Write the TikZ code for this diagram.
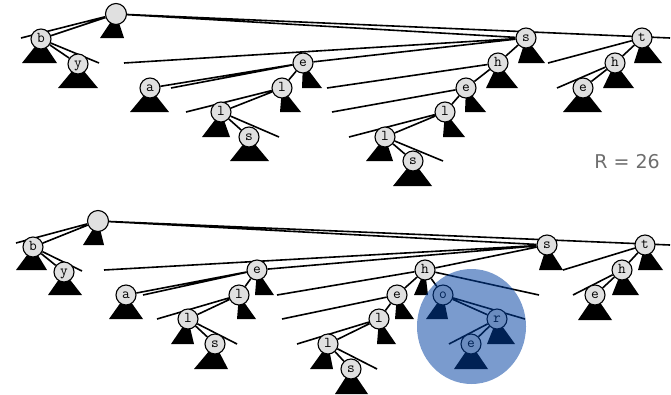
\documentclass[tikz,border=0pt]{standalone}
\usepackage{fontspec}
\setsansfont{DejaVu Sans}
\usetikzlibrary{backgrounds}
\definecolor{keygray}{RGB}{224,224,224}
\definecolor{hilite}{RGB}{0,64,162}
\definecolor{labelgray}{RGB}{110,110,110}
\tikzstyle{key} = [
    circle,
    minimum size=20pt,
    inner sep=0pt,
    text height=6pt,
    text depth=0pt,
    draw=black,
    line width=1.1pt,
    fill=keygray,
    font=\ttfamily\fontsize{15}{15}\selectfont
]
\tikzstyle{link} = [line width=1.6pt]
\tikzstyle{nulllink} = [fill=black]
\tikzstyle{newkeys} = [fill=hilite, fill opacity=0.52]
\tikzstyle{radix} = [
    font=\sffamily\fontsize{19}{19}\selectfont,
    text=labelgray
]

\begin{document}
\begin{tikzpicture}[x=1pt, y=-1pt]

\useasboundingbox (0,0) rectangle (671,394);

% before: by sea sells she shells the
\node (root1) [key, minimum size=21pt] at (116,14) {};
\node (b1) [key] at (41,39) {b};
\node (by1) [key] at (78,64) {y};
\node (s1) [key] at (526,38) {s};
\node (se1) [key] at (303,63) {e};
\node (sea1) [key] at (150,88) {a};
\node (sel1) [key] at (282,88) {l};
\node (sell1) [key] at (221,112) {l};
\node (sells1) [key] at (249,137) {s};
\node (sh1) [key] at (498,63) {h};
\node (she1) [key] at (466,88) {e};
\node (shel1) [key] at (445,112) {l};
\node (shell1) [key] at (385,137) {l};
\node (shells1) [key] at (413,161) {s};
\node (t1) [key] at (642,38) {t};
\node (th1) [key] at (615,63) {h};
\node (the1) [key] at (583,88) {e};

\coordinate (root1-left) at (21,38);
\coordinate (root1-right) at (670,38);
\coordinate (b1-right) at (99,63);
\coordinate (s1-left) at (124,63);
\coordinate (se1-left) at (171,88);
\coordinate (sel1-left) at (186,112);
\coordinate (sell1-right) at (279,137);
\coordinate (sh1-left) at (327,88);
\coordinate (she1-left) at (332,112);
\coordinate (shel1-left) at (349,137);
\coordinate (shell1-right) at (443,161);
\coordinate (t1-left) at (548,63);
\coordinate (th1-left) at (557,88);

\node (size) [radix] at (627,162) {R = 26};

% after: shore added
\node (root2) [key, minimum size=21pt] at (98,221) {};
\node (b2) [key] at (33,247) {b};
\node (by2) [key] at (64,272) {y};
\node (s2) [key] at (547,245) {s};
\node (se2) [key] at (257,270) {e};
\node (sea2) [key] at (126,295) {a};
\node (sel2) [key] at (239,295) {l};
\node (sell2) [key] at (188,319) {l};
\node (sells2) [key] at (215,344) {s};
\node (sh2) [key] at (425,270) {h};
\node (she2) [key] at (397,295) {e};
\node (shel2) [key] at (379,319) {l};
\node (shell2) [key] at (328,344) {l};
\node (shells2) [key] at (351,369) {s};
\node (sho2) [key] at (443,295) {o};
\node (shor2) [key] at (497,319) {r};
\node (shore2) [key] at (471,344) {e};
\node (t2) [key] at (645,245) {t};
\node (th2) [key] at (622,270) {h};
\node (the2) [key] at (595,295) {e};

\coordinate (root2-left) at (16,243);
\coordinate (root2-right) at (670,245);
\coordinate (b2-right) at (82,271);
\coordinate (s2-left) at (104,270);
\coordinate (se2-left) at (143,295);
\coordinate (sel2-left) at (157,319);
\coordinate (sell2-right) at (237,344);
\coordinate (sh2-left) at (277,295);
\coordinate (sh2-right) at (539,295);
\coordinate (she2-left) at (282,319);
\coordinate (shel2-left) at (297,344);
\coordinate (shell2-right) at (377,369);
\coordinate (sho2-right) at (525,319);
\coordinate (shor2-left) at (449,344);
\coordinate (t2-left) at (563,270);
\coordinate (th2-left) at (573,295);

\begin{pgfonlayer}{background}
\draw [link] (root1) -- (root1-left) (root1) -- (b1) (root1) -- (s1) (root1) -- (root1-right);
\draw [link] (b1) -- (by1) (b1) -- (b1-right);
\draw [link] (s1) -- (s1-left) (s1) -- (se1) (s1) -- (sh1);
\draw [link] (se1) -- (sea1) (se1) -- (se1-left) (se1) -- (sel1);
\draw [link] (sel1) -- (sell1) (sel1) -- (sel1-left);
\draw [link] (sell1) -- (sells1) (sell1) -- (sell1-right);
\draw [link] (sh1) -- (sh1-left) (sh1) -- (she1);
\draw [link] (she1) -- (she1-left) (she1) -- (shel1);
\draw [link] (shel1) -- (shell1) (shel1) -- (shel1-left);
\draw [link] (shell1) -- (shells1) (shell1) -- (shell1-right);
\draw [link] (t1) -- (t1-left) (t1) -- (th1);
\draw [link] (th1) -- (the1) (th1) -- (th1-left);

\fill [nulllink] (root1.center) -- (100,38) -- (124,38) -- cycle;
\fill [nulllink] (b1.center) -- (22,63) -- (57,63) -- cycle;
\fill [nulllink] (by1.center) -- (58,88) -- (98,88) -- cycle;
\fill [nulllink] (s1.center) -- (518,63) -- (545,63) -- cycle;
\fill [nulllink] (se1.center) -- (302,88) -- (322,88) -- cycle;
\fill [nulllink] (sea1.center) -- (130,112) -- (169,112) -- cycle;
\fill [nulllink] (sel1.center) -- (280,112) -- (301,112) -- cycle;
\fill [nulllink] (sell1.center) -- (202,137) -- (230,137) -- cycle;
\fill [nulllink] (sells1.center) -- (230,161) -- (269,161) -- cycle;
\fill [nulllink] (sh1.center) -- (486,88) -- (518,88) -- cycle;
\fill [nulllink] (she1.center) -- (465,112) -- (486,112) -- cycle;
\fill [nulllink] (shel1.center) -- (443,137) -- (465,137) -- cycle;
\fill [nulllink] (shell1.center) -- (366,161) -- (393,161) -- cycle;
\fill [nulllink] (shells1.center) -- (393,186) -- (432,186) -- cycle;
\fill [nulllink] (t1.center) -- (634,63) -- (662,63) -- cycle;
\fill [nulllink] (th1.center) -- (603,88) -- (634,88) -- cycle;
\fill [nulllink] (the1.center) -- (563,112) -- (602,112) -- cycle;

\draw [link] (root2) -- (root2-left) (root2) -- (b2) (root2) -- (s2) (root2) -- (root2-right);
\draw [link] (b2) -- (by2) (b2) -- (b2-right);
\draw [link] (s2) -- (s2-left) (s2) -- (se2) (s2) -- (sh2);
\draw [link] (se2) -- (sea2) (se2) -- (se2-left) (se2) -- (sel2);
\draw [link] (sel2) -- (sell2) (sel2) -- (sel2-left);
\draw [link] (sell2) -- (sells2) (sell2) -- (sell2-right);
\draw [link] (sh2) -- (sh2-left) (sh2) -- (she2) (sh2) -- (sho2) (sh2) -- (sh2-right);
\draw [link] (she2) -- (she2-left) (she2) -- (shel2);
\draw [link] (shel2) -- (shell2) (shel2) -- (shel2-left);
\draw [link] (shell2) -- (shells2) (shell2) -- (shell2-right);
\draw [link] (sho2) -- (shor2) (sho2) -- (sho2-right);
\draw [link] (shor2) -- (shore2) (shor2) -- (shor2-left);
\draw [link] (t2) -- (t2-left) (t2) -- (th2);
\draw [link] (th2) -- (the2) (th2) -- (th2-left);

\fill [nulllink] (root2.center) -- (83,245) -- (104,245) -- cycle;
\fill [nulllink] (b2.center) -- (16,270) -- (47,270) -- cycle;
\fill [nulllink] (by2.center) -- (48,295) -- (82,295) -- cycle;
\fill [nulllink] (s2.center) -- (539,270) -- (563,270) -- cycle;
\fill [nulllink] (se2.center) -- (255,295) -- (274,295) -- cycle;
\fill [nulllink] (sea2.center) -- (109,319) -- (143,319) -- cycle;
\fill [nulllink] (sel2.center) -- (237,319) -- (256,319) -- cycle;
\fill [nulllink] (sell2.center) -- (171,344) -- (194,344) -- cycle;
\fill [nulllink] (sells2.center) -- (194,369) -- (228,369) -- cycle;
\fill [nulllink] (sh2.center) -- (414,295) -- (428,295) -- cycle;
\fill [nulllink] (she2.center) -- (395,319) -- (414,319) -- cycle;
\fill [nulllink] (shel2.center) -- (377,344) -- (396,344) -- cycle;
\fill [nulllink] (shell2.center) -- (310,369) -- (333,369) -- cycle;
\fill [nulllink] (shells2.center) -- (335,394) -- (368,394) -- cycle;
\fill [nulllink] (sho2.center) -- (426,319) -- (448,319) -- cycle;
\fill [nulllink] (shor2.center) -- (487,344) -- (515,344) -- cycle;
\fill [nulllink] (shore2.center) -- (454,369) -- (488,369) -- cycle;
\fill [nulllink] (t2.center) -- (638,270) -- (663,270) -- cycle;
\fill [nulllink] (th2.center) -- (612,295) -- (639,295) -- cycle;
\fill [nulllink] (the2.center) -- (578,320) -- (612,320) -- cycle;
\end{pgfonlayer}

\fill [newkeys] (471.5,326.5) ellipse [x radius=54.5, y radius=57.5];

\end{tikzpicture}
\end{document}
